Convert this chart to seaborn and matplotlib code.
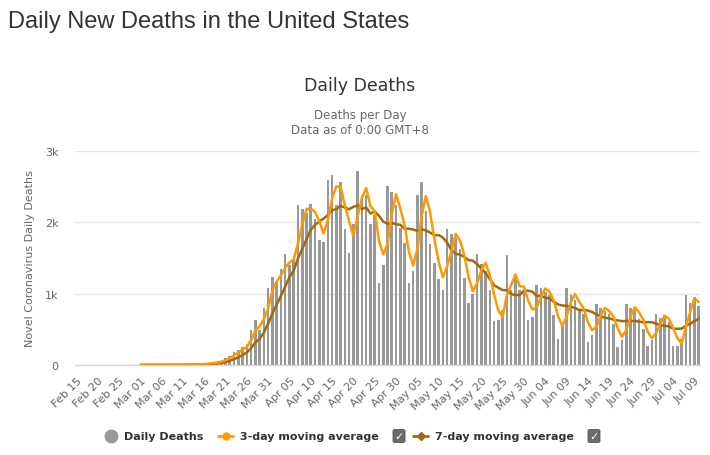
import seaborn as sns
import matplotlib.pyplot as plt
import matplotlib.dates as mdates
from matplotlib.lines import Line2D
from matplotlib.patches import FancyBboxPatch
from matplotlib.ticker import FuncFormatter
import pandas as pd
import numpy as np

sns.set_style("white")
plt.rcParams['font.family'] = ['DejaVu Sans']

# Daily new deaths (first reported death on Mar 01)
feb = [None] * 15  # Feb 15 - Feb 29
mar = [1, 5, 1, 4, 1, 2, 3, 4, 4, 5, 8, 7, 10, 8, 10, 18, 23, 33, 47, 60,
       95, 130, 180, 210, 250, 300, 495, 635, 495, 800, 1085]
apr = [1240, 1180, 1345, 1560, 1405, 1470, 2250, 2190, 2125, 2260, 2050, 1750,
       1730, 2600, 2670, 2240, 2570, 1900, 1575, 1970, 2725, 2330, 2390, 1970,
       2100, 1155, 1400, 2515, 2420, 2250]
may = [1920, 1715, 1155, 1320, 2390, 2560, 2155, 1700, 1435, 1200, 1055, 1900,
       1840, 1780, 1620, 1225, 875, 1000, 1560, 1420, 1315, 1045, 612, 626,
       770, 1547, 1047, 1220, 1047, 1023, 636]
jun = [673, 1117, 1079, 1023, 977, 706, 369, 568, 1085, 986, 906, 765, 709,
       329, 423, 850, 803, 751, 718, 568, 258, 357, 859, 803, 765, 648, 498,
       272, 357, 718]
jul = [657, 695, 601, 263, 263, 371, 986, 873, 950, 831]

dates = pd.date_range("2020-02-15", "2020-07-10", freq="D")
df = pd.DataFrame({"date": dates,
                   "deaths": pd.array(feb + mar + apr + may + jun + jul, dtype="Float64").astype(float)})
df["ma3"] = df["deaths"].rolling(3, min_periods=1).mean()
df["ma7"] = df["deaths"].rolling(7, min_periods=1).mean()
bars = df.dropna(subset=["deaths"])

BAR = "#999999"
ORANGE = "#ff9900"
BROWN = "#a5680b"
TXT = "#666666"

fig = plt.figure(figsize=(7.10, 4.56), dpi=100)
ax = fig.add_axes([75 / 710, 1 - 366 / 456, 625 / 710, 214 / 456])

ax.bar(mdates.date2num(bars["date"]), bars["deaths"], width=0.6, color=BAR,
       linewidth=0, zorder=2)
sns.lineplot(data=df, x="date", y="ma7", color=BROWN, linewidth=1.8, ax=ax,
             zorder=3)
sns.lineplot(data=df, x="date", y="ma3", color=ORANGE, linewidth=1.8, ax=ax,
             zorder=4)

ax.set_xlim(mdates.date2num(dates[0]) - 0.3, mdates.date2num(dates[-1]) + 0.3)
ax.set_ylim(0, 3000)
ax.set_yticks([0, 1000, 2000, 3000])
ax.yaxis.set_major_formatter(FuncFormatter(lambda v, p: "0" if v == 0 else f"{int(v / 1000)}k"))
ax.grid(axis="y", color="#e6e6e6", linewidth=1, zorder=0)
ax.grid(axis="x", visible=False)

tick_days = dates[::5]
ax.set_xticks(mdates.date2num(tick_days))
ax.set_xticklabels([d.strftime("%b %d") for d in tick_days], rotation=45,
                   ha="right", rotation_mode="anchor", fontsize=8, color=TXT)
ax.tick_params(axis="x", length=0, pad=7)
ax.tick_params(axis="y", length=0, pad=12, labelsize=8, labelcolor=TXT)

for s in ["top", "right", "left"]:
    ax.spines[s].set_visible(False)
ax.spines["bottom"].set_color("#ccd6eb")
ax.spines["bottom"].set_linewidth(1)

ax.set_xlabel("")
ax.set_ylabel("Novel Coronavirus Daily Deaths", fontsize=8, color=TXT)
ax.yaxis.set_label_coords(-0.064, 0.5)

# titles
fig.text(8 / 710, 1 - 22 / 456, "Daily New Deaths in the United States",
         fontsize=17, color="#333333", va="center", ha="left",
         family=["Liberation Sans", "DejaVu Sans"])
fig.text(360 / 710, 1 - 86 / 456, "Daily Deaths", fontsize=12.5,
         color="#333333", ha="center", va="center")
fig.text(360 / 710, 1 - 116 / 456, "Deaths per Day", fontsize=8.5,
         color=TXT, ha="center", va="center")
fig.text(360 / 710, 1 - 130 / 456, "Data as of 0:00 GMT+8", fontsize=8.5,
         color=TXT, ha="center", va="center")

# legend
ly = 1 - 437 / 456
fig.add_artist(Line2D([111 / 710], [ly], marker="o", markersize=9,
                      color=BAR, linestyle="none"))
fig.text(124 / 710, ly, "Daily Deaths", fontsize=8, fontweight="bold",
         color="#333333", va="center", ha="left")
fig.add_artist(Line2D([218 / 710, 233 / 710], [ly, ly], color=ORANGE,
                      linewidth=2))
fig.add_artist(Line2D([225.5 / 710], [ly], color=ORANGE, marker="o",
                      markersize=5))
fig.text(240 / 710, ly, "3-day moving average", fontsize=8, fontweight="bold",
         color="#333333", va="center", ha="left")
fig.add_artist(Line2D([413 / 710, 428 / 710], [ly, ly], color=BROWN,
                      linewidth=2))
fig.add_artist(Line2D([420.5 / 710], [ly], color=BROWN, marker="D",
                      markersize=4))
fig.text(435 / 710, ly, "7-day moving average", fontsize=8, fontweight="bold",
         color="#333333", va="center", ha="left")

for cx in (399, 594):
    box = FancyBboxPatch(((cx - 6) / 710, ly - 6.5 / 456), 12 / 710, 13 / 456,
                         boxstyle="round,pad=0,rounding_size=0.003",
                         transform=fig.transFigure, facecolor="#6b6b6b",
                         edgecolor="#555555", linewidth=0.6)
    fig.add_artist(box)
    fig.text(cx / 710, ly - 0.5 / 456, "\u2713", fontsize=8, color="white",
             ha="center", va="center", fontweight="bold")

fig.savefig("out.png", dpi=100, facecolor="white")
plt.close(fig)
